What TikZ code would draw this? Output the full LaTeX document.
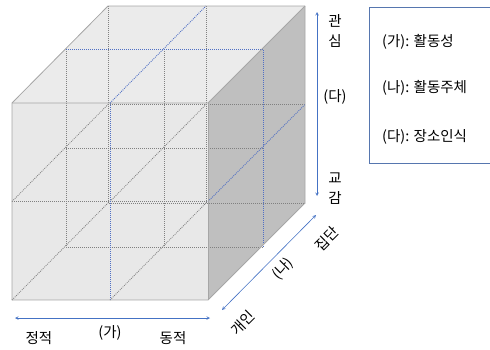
\documentclass[tikz,border=0pt]{standalone}
\usepackage{fontspec}
\newfontfamily\kr{Noto Sans CJK KR}
\definecolor{arrblue}{HTML}{4472C4}
\definecolor{dotblue}{HTML}{4F6FC4}
\definecolor{edgegray}{HTML}{A6A6A6}
\begin{document}
\begin{tikzpicture}[
    x=1pt, y=-1pt,
    font=\kr\fontsize{14.5}{20}\selectfont,
    frontf/.style={fill=black!9},
    topf/.style={fill=black!8},
    rightf/.style={fill=black!25},
    edge/.style={draw=edgegray, line width=0.8pt},
    hid/.style={draw=black!50, line width=0.8pt, dash pattern=on 0.9pt off 1.1pt},
    hidblue/.style={draw=dotblue, line width=0.9pt, dash pattern=on 0.9pt off 1.1pt},
    arr/.style={<->, >=stealth, arrblue, line width=0.6pt},
    lbl/.style={inner sep=0pt, align=center},
    legend/.style={anchor=west, inner sep=0pt}
]
\useasboundingbox (0,0) rectangle (490,349);

% faces of the cube
\fill[topf] (12,103) -- (108,6) -- (305,6) -- (208,103) -- cycle;
\fill[rightf] (208,103) -- (305,6) -- (305,203) -- (208,300) -- cycle;
\fill[frontf] (12,103) rectangle (208,300);

% hidden grid
\draw[hid] (108,6) -- (108,203) -- (305,203);
\draw[hid] (206,6) -- (206,203);
\draw[hid] (108,104.5) -- (305,104.5);
\draw[hid] (12,201.5) -- (208,201.5);
\draw[hid] (66,49) -- (66,247) -- (263,247);
\draw[hid] (164,49) -- (164,247);
\draw[hid] (66,148) -- (263,148);
\draw[hid] (12,201.5) -- (108,104.5);
\draw[hid] (110,201.5) -- (206,104.5);
\draw[hid] (12,300) -- (108,203);
\draw[hid] (110,300) -- (206,203);
\draw[hidblue] (110,103) -- (110,300);
\draw[hidblue] (110,103) -- (206,6);
\draw[hidblue] (66,49) -- (263,49) -- (263,247);
\draw[hidblue] (208,201.5) -- (305,104.5);

% outline
\draw[edge, line join=round] (12,103) -- (108,6) -- (305,6) -- (305,203) -- (208,300) -- (12,300) -- cycle;
\draw[edge] (12,103) -- (208,103) -- (305,6);
\draw[edge] (208,103) -- (208,300);

% axes
\coordinate (staticEnd) at (15,318);
\coordinate (dynamicEnd) at (210,318);
\coordinate (soloEnd) at (222,310);
\coordinate (groupEnd) at (316,215);
\coordinate (careEnd) at (317,12);
\coordinate (sharedEnd) at (317,196);
\draw[arr] (staticEnd) -- (dynamicEnd);
\draw[arr] (soloEnd) -- (groupEnd);
\draw[arr] (careEnd) -- (sharedEnd);

\node[lbl] (static) at (39,338) {정적};
\node[lbl] (ga) at (110,333) {(가)};
\node[lbl] (dynamic) at (173,338) {동적};
\node[lbl, rotate=45] (solo) at (243,323) {개인};
\node[lbl, rotate=45] (na) at (283,269) {(나)};
\node[lbl, rotate=45] (group) at (327,239) {집단};
\node[lbl] (care) at (335,31) {관\\심};
\node[lbl] (da) at (335,97) {(다)};
\node[lbl] (shared) at (335,189) {교\\감};

% legend
\draw[draw=arrblue!70!gray, line width=0.6pt] (369,7) rectangle (492,163);
\node[legend] (legA) at (382,42) {(가): 활동성};
\node[legend] (legB) at (382,88) {(나): 활동주체};
\node[legend] (legC) at (382,137) {(다): 장소인식};
\end{tikzpicture}
\end{document}
